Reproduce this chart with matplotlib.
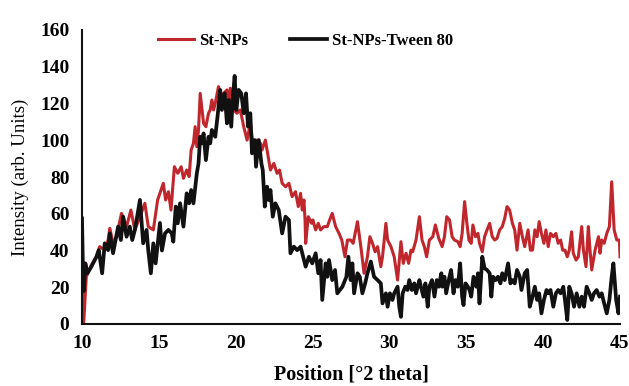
import matplotlib
matplotlib.use("Agg")
import matplotlib.pyplot as plt

# ---- data ----
theta_stnps = [10.00, 10.11, 10.28, 10.61, 10.94, 11.15, 11.48, 11.70, 11.81, 12.02, 12.24, 12.57,
               12.90, 13.18, 13.44, 13.77, 14.09, 14.31, 14.64, 14.92, 15.29, 15.44, 15.62, 15.79,
               16.01, 16.23, 16.45, 16.60, 16.81, 16.97, 17.10, 17.25, 17.36, 17.47, 17.58, 17.69,
               17.91, 18.06, 18.23, 18.34, 18.45, 18.56, 18.67, 18.88, 19.06, 19.21, 19.43, 19.54,
               19.65, 19.87, 20.08, 20.30, 20.52, 20.74, 20.95, 21.17, 21.39, 21.61, 21.71, 21.93,
               22.26, 22.48, 22.69, 22.85, 23.02, 23.24, 23.46, 23.67, 23.89, 24.07, 24.22, 24.33,
               24.44, 24.51, 24.55, 24.72, 24.94, 25.02, 25.20, 25.37, 25.52, 25.74, 25.96, 26.11,
               26.28, 26.50, 26.72, 26.90, 27.11, 27.27, 27.48, 27.64, 27.92, 28.14, 28.35, 28.57,
               28.73, 28.90, 29.07, 29.23, 29.44, 29.55, 29.77, 29.88, 30.10, 30.31, 30.53, 30.75,
               30.90, 31.08, 31.25, 31.40, 31.51, 31.73, 31.95, 32.12, 32.27, 32.42, 32.60, 32.82,
               32.99, 33.21, 33.43, 33.58, 33.73, 33.91, 34.08, 34.23, 34.45, 34.60, 34.73, 34.89,
               35.04, 35.17, 35.32, 35.43, 35.60, 35.76, 35.86, 36.04, 36.19, 36.35, 36.52, 36.69,
               36.85, 37.00, 37.17, 37.34, 37.50, 37.65, 37.82, 38.00, 38.15, 38.30, 38.48, 38.65,
               38.80, 39.02, 39.17, 39.31, 39.46, 39.61, 39.74, 39.89, 40.05, 40.18, 40.33, 40.48,
               40.66, 40.83, 40.98, 41.14, 41.27, 41.42, 41.57, 41.70, 41.85, 41.96, 42.14, 42.29,
               42.51, 42.62, 42.79, 42.94, 43.05, 43.16, 43.38, 43.60, 43.70, 43.81, 43.97, 44.14,
               44.31, 44.46, 44.62, 44.79, 44.96, 45.00]
int_stnps = [22.1, 0.4, 25.7, 32.1, 36.6, 42.1, 40.2, 45.7, 52.1, 43.9, 47.5, 60.2,
             53.0, 62.0, 51.2, 58.4, 65.7, 53.0, 51.2, 67.5, 76.6, 67.5, 72.0, 62.0,
             85.6, 82.0, 85.6, 79.3, 83.8, 80.2, 94.7, 98.3, 107.4, 96.5, 105.6, 125.5,
             109.2, 107.4, 114.7, 116.5, 121.9, 116.5, 120.1, 129.2, 123.7, 125.5, 127.4, 120.1,
             128.3, 116.5, 114.7, 116.5, 107.4, 100.1, 109.2, 94.7, 100.1, 98.3, 94.7, 100.1,
             83.8, 87.4, 82.0, 83.8, 76.6, 74.7, 76.6, 69.3, 72.0, 63.9, 71.1, 62.0,
             67.5, 56.6, 43.9, 58.4, 54.8, 56.6, 51.2, 54.8, 51.2, 53.0, 53.0, 56.6,
             60.2, 53.0, 49.3, 45.7, 36.6, 45.7, 45.7, 43.9, 55.7, 42.1, 27.6, 36.6,
             47.5, 43.9, 39.3, 42.1, 31.2, 36.6, 54.8, 45.7, 42.1, 36.6, 23.9, 44.8,
             33.0, 38.5, 33.0, 40.2, 39.3, 45.7, 58.4, 45.7, 42.1, 36.6, 45.7, 47.5,
             53.9, 46.6, 42.1, 47.5, 58.4, 56.6, 47.5, 45.7, 44.8, 42.1, 49.3, 66.6,
             54.8, 45.7, 43.9, 53.9, 47.5, 49.3, 43.9, 39.3, 47.5, 51.2, 54.8, 47.5,
             45.7, 46.6, 51.2, 53.0, 57.5, 63.9, 62.0, 54.8, 51.2, 40.2, 54.8, 47.5,
             42.1, 51.2, 40.2, 40.2, 51.2, 47.5, 55.7, 49.3, 43.9, 51.2, 42.1, 49.3,
             47.5, 49.3, 43.9, 45.7, 40.2, 40.2, 36.6, 40.2, 50.2, 38.5, 34.8, 36.6,
             53.0, 40.2, 31.2, 53.0, 40.2, 29.4, 40.2, 47.5, 38.5, 45.7, 43.9, 49.3,
             53.0, 77.4, 51.2, 45.7, 45.7, 36.6]

theta_tween = [10.00, 10.07, 10.12, 10.22, 10.35, 10.61, 10.94, 11.09, 11.31, 11.48, 11.70, 11.81,
               12.02, 12.35, 12.53, 12.68, 12.90, 13.11, 13.27, 13.44, 13.77, 13.98, 14.20, 14.31,
               14.48, 14.64, 14.79, 15.07, 15.20, 15.40, 15.62, 15.84, 15.94, 16.10, 16.23, 16.38,
               16.60, 16.81, 16.97, 17.10, 17.25, 17.47, 17.58, 17.69, 17.80, 17.91, 18.06, 18.23,
               18.34, 18.45, 18.67, 18.84, 18.99, 19.10, 19.28, 19.43, 19.54, 19.71, 19.80, 19.93,
               20.04, 20.19, 20.36, 20.52, 20.67, 20.80, 20.95, 21.06, 21.24, 21.32, 21.50, 21.67,
               21.76, 21.89, 22.04, 22.15, 22.26, 22.41, 22.58, 22.80, 23.02, 23.24, 23.46, 23.56,
               23.78, 24.00, 24.22, 24.55, 24.76, 24.98, 25.20, 25.37, 25.52, 25.63, 25.85, 25.96,
               26.07, 26.28, 26.46, 26.61, 26.94, 27.20, 27.33, 27.48, 27.59, 27.70, 27.92, 28.07,
               28.24, 28.42, 28.57, 28.79, 29.00, 29.23, 29.44, 29.55, 29.77, 29.88, 30.03, 30.20,
               30.31, 30.53, 30.64, 30.75, 30.86, 31.03, 31.18, 31.29, 31.46, 31.62, 31.73, 31.95,
               32.05, 32.21, 32.34, 32.49, 32.60, 32.77, 32.93, 33.08, 33.21, 33.38, 33.43, 33.58,
               33.69, 33.86, 34.01, 34.17, 34.30, 34.45, 34.60, 34.73, 34.82, 34.95, 35.10, 35.21,
               35.32, 35.47, 35.65, 35.76, 35.86, 36.04, 36.19, 36.35, 36.52, 36.63, 36.74, 36.91,
               37.06, 37.22, 37.34, 37.50, 37.72, 37.87, 38.00, 38.15, 38.30, 38.48, 38.59, 38.80,
               38.96, 39.13, 39.31, 39.46, 39.61, 39.74, 39.89, 40.05, 40.22, 40.33, 40.48, 40.66,
               40.83, 40.98, 41.14, 41.31, 41.42, 41.57, 41.70, 41.85, 42.01, 42.18, 42.36, 42.51,
               42.66, 42.83, 43.01, 43.16, 43.31, 43.48, 43.66, 43.81, 43.97, 44.14, 44.31, 44.46,
               44.57, 44.75, 44.90, 45.00]
int_tween = [57.5, 25.7, 18.0, 33.0, 27.6, 31.2, 36.6, 40.2, 27.6, 43.9, 40.2, 49.3,
             38.5, 53.0, 45.7, 58.4, 47.5, 53.0, 45.7, 51.2, 67.5, 43.9, 51.2, 40.2,
             27.6, 43.9, 33.0, 55.0, 40.0, 49.3, 51.2, 49.3, 44.8, 63.9, 54.8, 65.7,
             53.0, 71.1, 65.7, 72.9, 65.7, 82.0, 87.4, 101.9, 98.3, 103.7, 89.2, 101.9,
             98.3, 105.6, 101.9, 114.7, 127.4, 116.5, 125.5, 109.2, 121.9, 107.4, 121.9, 135.0,
             116.5, 127.4, 125.5, 114.7, 125.5, 107.4, 114.7, 92.9, 100.1, 85.6, 100.1, 87.4,
             83.8, 63.9, 74.7, 67.5, 72.9, 58.4, 65.7, 62.0, 49.3, 58.4, 56.6, 38.5,
             42.1, 40.2, 42.1, 31.2, 36.6, 33.0, 38.5, 27.6, 34.8, 13.1, 33.0, 25.7,
             34.8, 23.9, 29.4, 16.7, 20.3, 25.7, 36.6, 23.9, 33.0, 16.7, 27.6, 25.7,
             16.7, 22.1, 27.6, 34.0, 25.7, 23.9, 22.1, 11.2, 16.7, 9.4, 16.7, 13.1,
             16.7, 20.3, 9.4, 3.9, 16.7, 20.3, 18.5, 23.9, 18.5, 22.1, 16.7, 23.9,
             20.3, 14.9, 22.1, 9.4, 20.3, 23.9, 14.9, 23.9, 20.3, 27.6, 20.3, 25.7,
             16.7, 23.9, 29.4, 16.7, 23.9, 20.3, 33.0, 14.9, 10.3, 22.1, 20.3, 18.5,
             14.9, 25.7, 20.3, 27.6, 11.2, 36.6, 30.3, 29.4, 27.6, 14.9, 25.7, 23.9,
             25.7, 22.1, 27.6, 23.9, 33.0, 22.1, 23.9, 22.1, 29.4, 25.7, 18.5, 27.6,
             29.4, 9.4, 14.9, 20.3, 13.1, 16.7, 5.8, 13.1, 18.5, 16.7, 18.5, 9.4,
             16.7, 18.5, 16.7, 20.3, 13.1, 2.2, 20.3, 16.7, 9.4, 16.7, 9.4, 14.9,
             9.4, 20.3, 16.7, 13.1, 16.7, 18.5, 14.9, 16.7, 11.2, 5.8, 13.1, 25.7,
             33.0, 13.1, 5.8, 14.9]

labels = ["St-NPs", "St-NPs-Tween 80"]
x_ticks = [10, 15, 20, 25, 30, 35, 40, 45]
y_ticks = [0, 20, 40, 60, 80, 100, 120, 140, 160]

plt.rcParams['font.family'] = ['Liberation Serif', 'DejaVu Serif']

fig = plt.figure(figsize=(6.29, 3.86), dpi=100)
ax = fig.add_axes([82 / 629, 1 - 324 / 386, (620 - 82) / 629, (324 - 30) / 386])

ax.plot(theta_stnps, int_stnps, color='#C0272D', lw=2.2, label=labels[0],
        solid_joinstyle='round')
ax.plot(theta_tween, int_tween, color='#111111', lw=2.7, label=labels[1],
        solid_joinstyle='round')

ax.set_xlim(10, 45)
ax.set_ylim(0, 160)
ax.set_xticks(x_ticks)
ax.set_yticks(y_ticks)
ax.tick_params(axis='y', length=0, labelsize=14, pad=9)
ax.tick_params(axis='x', length=0, labelsize=14, pad=8)
for lab in ax.get_xticklabels() + ax.get_yticklabels():
    lab.set_fontweight('bold')

for s in ['top', 'right']:
    ax.spines[s].set_visible(False)
for s in ['left', 'bottom']:
    ax.spines[s].set_linewidth(1.5)
    ax.spines[s].set_color('#111111')

ax.set_xlabel("Position [°2 theta]", fontsize=14.5, fontweight='bold', labelpad=9)
ax.set_ylabel("Intensity (arb. Units)", fontsize=13.5, labelpad=8)

ax.legend(loc='upper center', bbox_to_anchor=(0.415, 1.04), ncol=2, frameon=False,
          prop={'weight': 'bold', 'size': 12}, handlelength=2.2, handletextpad=0.3,
          columnspacing=2.5)

fig.savefig("out.png", dpi=100)
